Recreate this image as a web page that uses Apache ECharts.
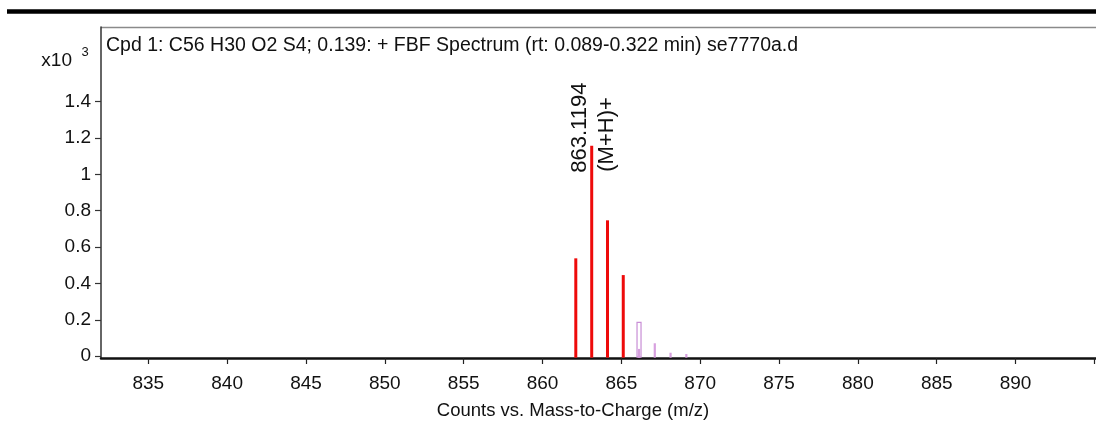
<!DOCTYPE html>
<html>
<head>
<meta charset="utf-8">
<script src="https://cdn.jsdelivr.net/npm/echarts@6/dist/echarts.min.js"></script>
<style>
html,body{margin:0;padding:0;background:#fff;}
#chart{width:1096px;height:424px;}
</style>
</head>
<body>
<div id="chart"></div>
<script>
// ---- data ----
const matchedMz = [862.11, 863.1194, 864.12, 865.12];
const matchedCounts = [0.538, 1.157, 0.747, 0.446];
const otherMz = [866.12, 867.12, 868.12, 869.12];
const otherCounts = [0.040, 0.071, 0.019, 0.012];
const predictedMz = [866.12];
const predictedCounts = [0.186];
const peakLabelMz = [863.1194];
const peakLabelCounts = [1.157];
const peakLabelText = ['863.1194'];
const peakLabelIon = ['(M+H)+'];
const xTickValues = [835, 840, 845, 850, 855, 860, 865, 870, 875, 880, 885, 890, 895];
const xLabelValues = [835, 840, 845, 850, 855, 860, 865, 870, 875, 880, 885, 890];
const yTickValues = [0, 0.2, 0.4, 0.6, 0.8, 1, 1.2, 1.4];
const titleText = 'Cpd 1: C56 H30 O2 S4; 0.139: + FBF Spectrum (rt: 0.089-0.322 min) se7770a.d';
const xAxisTitle = 'Counts vs. Mass-to-Charge (m/z)';

const FONT = '"Liberation Sans", Arial, sans-serif';
const chart = echarts.init(document.getElementById('chart'), null, {renderer: 'canvas'});

function pairs(a, b) { return a.map((v, i) => [v, b[i]]); }

function stickRender(color, w) {
  return function (params, api) {
    const base = api.coord([api.value(0), 0]);
    const top = api.coord([api.value(0), api.value(1)]);
    return {
      type: 'rect',
      shape: {x: top[0] - w / 2, y: top[1], width: w, height: base[1] - top[1] + 1.5},
      style: {fill: color}
    };
  };
}

const option = {
  animation: false,
  backgroundColor: '#ffffff',
  title: {
    text: titleText,
    left: 106, top: 36, padding: 0,
    textStyle: {fontFamily: FONT, fontSize: 19.5, fontWeight: 'normal', color: '#111'}
  },
  grid: {left: 101, right: 0, top: 27, bottom: 66, containLabel: false},
  xAxis: {
    type: 'value',
    min: 832, max: 895.1,
    splitLine: {show: false},
    axisLine: {show: true, onZero: false, lineStyle: {color: '#111', width: 2.5}},
    axisTick: {show: true, length: 6, customValues: xTickValues, lineStyle: {color: '#222', width: 1.2}},
    axisLabel: {customValues: xLabelValues, margin: 16, fontFamily: FONT, fontSize: 19, color: '#111'}
  },
  yAxis: {
    type: 'value',
    min: -0.01, max: 1.81,
    splitLine: {show: false},
    axisLine: {show: true, onZero: false, lineStyle: {color: '#333', width: 1.5}},
    axisTick: {show: true, length: 6, customValues: yTickValues, lineStyle: {color: '#333', width: 1.2}},
    axisLabel: {customValues: yTickValues, margin: 10, fontFamily: FONT, fontSize: 19, color: '#111',
      formatter: v => String(Math.round(v * 10) / 10)}
  },
  graphic: [
    {type: 'line', shape: {x1: 7, y1: 11.5, x2: 1096, y2: 11.5}, style: {stroke: '#000', lineWidth: 4.5}},
    {type: 'line', shape: {x1: 101, y1: 27.5, x2: 1096, y2: 27.5}, style: {stroke: '#8a8a8a', lineWidth: 1.6}},
    {type: 'text', x: 72, y: 61, style: {text: 'x10', fontFamily: FONT, fontSize: 19, fill: '#111', align: 'right', verticalAlign: 'middle'}},
    {type: 'text', x: 85, y: 52, style: {text: '3', fontFamily: FONT, fontSize: 13, fill: '#111', align: 'center', verticalAlign: 'middle'}},
    {type: 'text', x: 573, y: 411, style: {text: xAxisTitle, fontFamily: FONT, fontSize: 18.5, fill: '#111', align: 'center', verticalAlign: 'middle'}}
  ],
  series: [
    {
      type: 'custom', name: 'predicted', coordinateSystem: 'cartesian2d',
      data: pairs(predictedMz, predictedCounts),
      renderItem: function (params, api) {
        const base = api.coord([api.value(0), 0]);
        const top = api.coord([api.value(0), api.value(1)]);
        return {type: 'rect', shape: {x: top[0] - 2, y: top[1], width: 4, height: base[1] - top[1] + 1},
          style: {fill: '#ffffff', stroke: '#c98fd6', lineWidth: 1.2}};
      }
    },
    {
      type: 'custom', name: 'other', coordinateSystem: 'cartesian2d',
      data: pairs(otherMz, otherCounts),
      renderItem: stickRender('#d7a0df', 2.2)
    },
    {
      type: 'custom', name: 'matched', coordinateSystem: 'cartesian2d',
      data: pairs(matchedMz, matchedCounts),
      renderItem: stickRender('#ee0a0a', 3)
    },
    {
      type: 'custom', name: 'labels', coordinateSystem: 'cartesian2d',
      data: pairs(peakLabelMz, peakLabelCounts),
      renderItem: function (params, api) {
        const top = api.coord([api.value(0), api.value(1)]);
        const i = params.dataIndex;
        return {
          type: 'group',
          children: [
            {type: 'text', x: top[0] - 12, y: top[1] + 27, rotation: Math.PI / 2,
              style: {text: peakLabelText[i], fontFamily: FONT, fontSize: 22, fill: '#111', align: 'left', verticalAlign: 'middle'}},
            {type: 'text', x: top[0] + 15, y: top[1] + 26, rotation: Math.PI / 2,
              style: {text: peakLabelIon[i], fontFamily: FONT, fontSize: 22, fill: '#111', align: 'left', verticalAlign: 'middle'}}
          ]
        };
      }
    }
  ]
};
chart.setOption(option);
</script>
</body>
</html>
